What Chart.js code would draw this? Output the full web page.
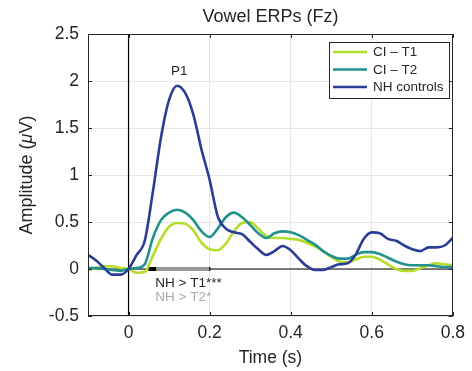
<!DOCTYPE html>
<html>
<head>
<meta charset="utf-8">
<script src="https://cdn.jsdelivr.net/npm/chart.js@4/dist/chart.umd.min.js"></script>
<style>
  html, body { margin: 0; padding: 0; background: #fff; }
  #wrap { width: 472px; height: 371px; }
</style>
</head>
<body>
<div id="wrap"><canvas id="myChart" width="472" height="371"></canvas></div>
<script>
// time axis (s)
const tiempos = [-0.10, -0.08, -0.06, -0.04, -0.02, 0.00, 0.02, 0.04, 0.06, 0.08,
  0.10, 0.12, 0.14, 0.16, 0.18, 0.20, 0.22, 0.24, 0.26, 0.28,
  0.30, 0.32, 0.34, 0.36, 0.38, 0.40, 0.42, 0.44, 0.46, 0.48,
  0.50, 0.52, 0.54, 0.56, 0.58, 0.60, 0.62, 0.64, 0.66, 0.68,
  0.70, 0.72, 0.74, 0.76, 0.78, 0.80];

const ciT1 = [-0.01, 0.01, 0.03, 0.03, 0.01, 0.00, -0.04, -0.03, 0.14, 0.32,
  0.45, 0.49, 0.48, 0.41, 0.28, 0.21, 0.20, 0.27, 0.40, 0.49,
  0.50, 0.43, 0.35, 0.33, 0.33, 0.32, 0.31, 0.28, 0.24, 0.19,
  0.13, 0.08, 0.07, 0.10, 0.13, 0.13, 0.10, 0.05, 0.00, -0.02,
  -0.02, 0.01, 0.04, 0.06, 0.05, 0.04];

const ciT2 = [0.01, 0.01, 0.00, -0.01, -0.02, 0.00, 0.01, 0.05, 0.33, 0.52,
  0.60, 0.63, 0.60, 0.52, 0.40, 0.34, 0.43, 0.55, 0.60, 0.55,
  0.47, 0.38, 0.33, 0.38, 0.40, 0.39, 0.36, 0.31, 0.26, 0.19,
  0.14, 0.11, 0.11, 0.15, 0.18, 0.18, 0.16, 0.12, 0.08, 0.05,
  0.04, 0.04, 0.04, 0.03, 0.02, 0.02];

const nhControles = [0.15, 0.09, 0.01, -0.06, -0.06, 0.00, 0.15, 0.30, 0.82, 1.40,
  1.80, 1.95, 1.87, 1.64, 1.27, 0.95, 0.56, 0.43, 0.39, 0.37,
  0.29, 0.21, 0.15, 0.19, 0.245, 0.20, 0.11, 0.03, -0.01, -0.01,
  0.02, 0.05, 0.06, 0.15, 0.32, 0.39, 0.38, 0.32, 0.30, 0.25,
  0.21, 0.19, 0.23, 0.23, 0.25, 0.33];

const etiquetas = ['CI \u2013 T1', 'CI \u2013 T2', 'NH controls'];
const colores = ['#b4dd2b', '#21918c', '#293d95'];

const ticksX = [0, 0.2, 0.4, 0.6, 0.8];
const ticksY = [-0.5, 0, 0.5, 1, 1.5, 2, 2.5];

// significance intervals (s)
const sigT1 = [0.049, 0.202];
const sigT2 = [0.068, 0.199];

const fuente = "'Liberation Sans', Arial, sans-serif";
const gris = '#262626';

const extras = {
  id: 'extras',
  beforeDatasetsDraw(chart) {
    const ctx = chart.ctx;
    const x = chart.scales.x, y = chart.scales.y;
    const a = chart.chartArea;
    ctx.save();
    ctx.strokeStyle = '#000';
    ctx.lineWidth = 1.2;
    ctx.beginPath();
    ctx.moveTo(x.getPixelForValue(0), a.top);
    ctx.lineTo(x.getPixelForValue(0), a.bottom);
    ctx.moveTo(a.left, y.getPixelForValue(0));
    ctx.lineTo(a.right, y.getPixelForValue(0));
    ctx.stroke();
    const y0 = y.getPixelForValue(0);
    ctx.fillStyle = '#000';
    ctx.fillRect(x.getPixelForValue(sigT1[0]), y0 - 2, x.getPixelForValue(sigT1[1]) - x.getPixelForValue(sigT1[0]), 4);
    ctx.fillStyle = '#999';
    ctx.fillRect(x.getPixelForValue(sigT2[0]), y0 - 2, x.getPixelForValue(sigT2[1]) - x.getPixelForValue(sigT2[0]), 4);
    ctx.restore();
  },
  afterDraw(chart) {
    const ctx = chart.ctx;
    const x = chart.scales.x, y = chart.scales.y;
    const a = chart.chartArea;
    ctx.save();
    // box + inward ticks
    ctx.strokeStyle = gris;
    ctx.lineWidth = 1;
    ctx.strokeRect(Math.round(a.left) + 0.5, Math.round(a.top) + 0.5, Math.round(a.right - a.left) - 1, Math.round(a.bottom - a.top) - 1);
    ctx.beginPath();
    ticksX.forEach(v => {
      const px = Math.round(x.getPixelForValue(v)) + 0.5;
      ctx.moveTo(px, a.bottom); ctx.lineTo(px, a.bottom - 4);
      ctx.moveTo(px, a.top); ctx.lineTo(px, a.top + 4);
    });
    ticksY.forEach(v => {
      const py = Math.round(y.getPixelForValue(v)) + 0.5;
      ctx.moveTo(a.left, py); ctx.lineTo(a.left + 4, py);
      ctx.moveTo(a.right, py); ctx.lineTo(a.right - 4, py);
    });
    ctx.stroke();

    // annotations
    ctx.fillStyle = gris;
    ctx.font = '13.5px ' + fuente;
    ctx.textAlign = 'center';
    ctx.textBaseline = 'middle';
    ctx.fillText('P1', x.getPixelForValue(0.125), y.getPixelForValue(2.1));
    ctx.textAlign = 'left';
    ctx.fillText('NH > T1***', x.getPixelForValue(0.066), y.getPixelForValue(-0.15));
    ctx.fillStyle = '#aaaaaa';
    ctx.fillText('NH > T2*', x.getPixelForValue(0.066), y.getPixelForValue(-0.30));

    // legend
    ctx.fillStyle = '#fff';
    ctx.fillRect(329, 42, 120, 56);
    ctx.strokeStyle = gris;
    ctx.lineWidth = 1;
    ctx.strokeRect(329.5, 42.5, 120, 56);
    chart.data.datasets.forEach((ds, i) => {
      const ly = 52 + i * 17.5;
      ctx.strokeStyle = ds.borderColor;
      ctx.lineWidth = 2.5;
      ctx.beginPath();
      ctx.moveTo(333, ly); ctx.lineTo(367, ly);
      ctx.stroke();
      ctx.fillStyle = gris;
      ctx.font = '13.5px ' + fuente;
      ctx.textAlign = 'left';
      ctx.fillText(ds.label, 373, ly + 0.5);
    });

    // title and axis labels
    ctx.fillStyle = gris;
    ctx.textAlign = 'center';
    ctx.font = '18px ' + fuente;
    ctx.fillText('Vowel ERPs (Fz)', (a.left + a.right) / 2, 17);
    ctx.font = '17.5px ' + fuente;
    ctx.fillText('Time (s)', (a.left + a.right) / 2, 358);

    ctx.translate(27, (a.top + a.bottom) / 2);
    ctx.rotate(-Math.PI / 2);
    const partes = [['Amplitude (', '18px '], ['\u03bc', 'italic 18px '], ['V)', '18px ']];
    let total = 0;
    partes.forEach(p => { ctx.font = p[1] + fuente; total += ctx.measureText(p[0]).width; });
    let cx = -total / 2;
    ctx.textAlign = 'left';
    partes.forEach(p => {
      ctx.font = p[1] + fuente;
      ctx.fillText(p[0], cx, 0);
      cx += ctx.measureText(p[0]).width;
    });
    ctx.restore();
  }
};

const datasets = [ciT1, ciT2, nhControles].map((serie, i) => ({
  label: etiquetas[i],
  data: tiempos.map((t, j) => ({ x: t, y: serie[j] })),
  borderColor: colores[i],
  borderWidth: 2.6,
  pointRadius: 0,
  cubicInterpolationMode: 'monotone',
  fill: false,
  order: 3 - i
}));

const config = {
  type: 'line',
  data: { datasets },
  options: {
    responsive: false,
    animation: false,
    events: [],
    layout: { padding: { left: 0, top: 34, right: 15, bottom: 0 } },
    plugins: { legend: { display: false }, tooltip: { enabled: false } },
    scales: {
      x: {
        type: 'linear',
        min: -0.1,
        max: 0.8,
        afterBuildTicks: s => { s.ticks = ticksX.map(v => ({ value: v })); },
        afterFit: s => { s.height = 55; },
        grid: { color: '#e6e6e6', drawTicks: false },
        border: { display: false },
        ticks: {
          color: gris, padding: 7, maxRotation: 0,
          font: { family: fuente, size: 17.5 },
          callback: v => String(v)
        }
      },
      y: {
        min: -0.5,
        max: 2.5,
        afterBuildTicks: s => { s.ticks = ticksY.map(v => ({ value: v })); },
        afterFit: s => { s.width = 88; },
        grid: { color: '#e6e6e6', drawTicks: false },
        border: { display: false },
        ticks: {
          color: gris, padding: 9,
          font: { family: fuente, size: 17.5 },
          callback: v => String(v)
        }
      }
    }
  },
  plugins: [extras]
};

const myChart = new Chart(document.getElementById('myChart').getContext('2d'), config);
</script>
</body>
</html>
